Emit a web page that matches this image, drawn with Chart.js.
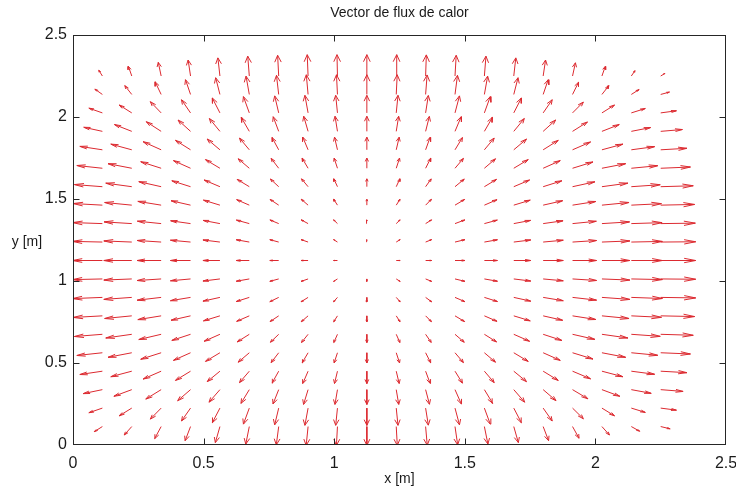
<!DOCTYPE html>
<html>
<head>
<meta charset="utf-8">
<script src="https://cdn.jsdelivr.net/npm/chart.js@4/dist/chart.umd.min.js"></script>
<style>
  body { margin: 0; background: #fff; }
  canvas { display: block; }
</style>
</head>
<body>
<canvas id="quiverChart" width="736" height="488"></canvas>
<script>
/* Heat flux quiver plot */

// grid points (m)
const xGrid = [0.1125, 0.225, 0.3375, 0.45, 0.5625, 0.675, 0.7875, 0.9, 1.0125, 1.125,
               1.2375, 1.35, 1.4625, 1.575, 1.6875, 1.8, 1.9125, 2.025, 2.1375, 2.25];
const yGrid = [0.1125, 0.225, 0.3375, 0.45, 0.5625, 0.675, 0.7875, 0.9, 1.0125, 1.125,
               1.2375, 1.35, 1.4625, 1.575, 1.6875, 1.8, 1.9125, 2.025, 2.1375, 2.25];

// horizontal flux along the middle row (one per column)
const fluxXMid = [-0.115, -0.107, -0.092, -0.077, -0.065, -0.050, -0.034, -0.027, -0.015, 0,
                  0.015, 0.023, 0.038, 0.050, 0.065, 0.077, 0.092, 0.107, 0.119, 0.134];
// vertical flux along the middle column (one per row, bottom to top)
const fluxYMid = [-0.115, -0.105, -0.090, -0.075, -0.062, -0.050, -0.036, -0.027, -0.015, 0,
                  0.015, 0.023, 0.036, 0.048, 0.062, 0.077, 0.092, 0.107, 0.120, 0.130];
// how the horizontal flux shrinks toward the top/bottom edges (per row)
const rowFalloff = [0.27, 0.45, 0.64, 0.75, 0.85, 0.93, 0.97, 1, 1, 1,
                    1, 0.99, 0.97, 0.93, 0.85, 0.75, 0.62, 0.45, 0.25, 0.12];
// how the vertical flux shrinks toward the left/right edges (per column)
const colFalloff = [0.27, 0.45, 0.64, 0.75, 0.85, 0.93, 0.97, 1, 1, 1,
                    1, 0.99, 0.97, 0.93, 0.85, 0.75, 0.62, 0.45, 0.25, 0.12];

const xTicks = [0, 0.5, 1, 1.5, 2, 2.5];
const yTicks = [0, 0.5, 1, 1.5, 2, 2.5];

const RED = '#dc2a30';
const headLen = 0.33;
const headWide = 0.3;

// build shaft + barb polylines, null y breaks the line
function buildArrows() {
    const pts = [];
    for (let i = 0; i < xGrid.length; i++) {
        for (let j = 0; j < yGrid.length; j++) {
            const x = xGrid[i], y = yGrid[j];
            const u = fluxXMid[i] * rowFalloff[j];
            const v = fluxYMid[j] * colFalloff[i];
            const hx = x + u, hy = y + v;
            pts.push({ x: x, y: y });
            pts.push({ x: hx, y: hy });
            pts.push({ x: hx - headLen * (u + headWide * v), y: hy - headLen * (v - headWide * u) });
            pts.push({ x: hx, y: null });
            pts.push({ x: hx, y: hy });
            pts.push({ x: hx - headLen * (u - headWide * v), y: hy - headLen * (v + headWide * u) });
            pts.push({ x: hx, y: null });
        }
    }
    return pts;
}

const framePlugin = {
    id: 'frame',
    afterDraw(chart) {
        const { ctx, chartArea: a, scales } = chart;
        const L = Math.round(a.left) + 0.5, R = Math.round(a.right) - 0.5;
        const T = Math.round(a.top) + 0.5, B = Math.round(a.bottom) - 0.5;
        ctx.save();
        ctx.strokeStyle = '#262626';
        ctx.lineWidth = 1;
        ctx.strokeRect(L, T, R - L, B - T);
        ctx.beginPath();
        xTicks.slice(1, -1).forEach(t => {
            const px = Math.round(scales.x.getPixelForValue(t)) + 0.5;
            ctx.moveTo(px, B); ctx.lineTo(px, B - 6);
            ctx.moveTo(px, T); ctx.lineTo(px, T + 6);
        });
        yTicks.slice(1, -1).forEach(t => {
            const py = Math.round(scales.y.getPixelForValue(t)) + 0.5;
            ctx.moveTo(L, py); ctx.lineTo(L + 6, py);
            ctx.moveTo(R, py); ctx.lineTo(R - 6, py);
        });
        ctx.stroke();

        ctx.fillStyle = '#1a1a1a';
        ctx.textAlign = 'center';
        ctx.textBaseline = 'middle';
        ctx.font = '14px "Liberation Sans", Arial, sans-serif';
        ctx.fillText('Vector de flux de calor', (a.left + a.right) / 2, 13);
        ctx.fillText('x [m]', (a.left + a.right) / 2, 479);
        ctx.fillText('y [m]', 27, 242);
        ctx.restore();
    }
};

new Chart(document.getElementById('quiverChart'), {
    type: 'scatter',
    data: {
        datasets: [{
            data: buildArrows(),
            showLine: true,
            spanGaps: false,
            borderColor: RED,
            borderWidth: 1,
            pointRadius: 0,
            pointHoverRadius: 0,
            tension: 0
        }]
    },
    options: {
        responsive: false,
        animation: false,
        devicePixelRatio: 1,
        layout: { padding: { left: 0, top: 35, right: 10, bottom: 0 } },
        plugins: {
            legend: { display: false },
            tooltip: { enabled: false }
        },
        events: [],
        scales: {
            x: {
                type: 'linear',
                min: 0,
                max: 2.5,
                afterBuildTicks: s => { s.ticks = xTicks.map(v => ({ value: v })); },
                afterFit: s => { s.height = 43; s.paddingLeft = 0; s.paddingRight = 0; },
                grid: { display: false, drawTicks: false },
                border: { display: false },
                ticks: {
                    padding: 9,
                    color: '#1a1a1a',
                    callback: v => String(v),
                    font: { size: 16, family: '"Liberation Sans", Arial, sans-serif' }
                }
            },
            y: {
                type: 'linear',
                min: 0,
                max: 2.5,
                afterBuildTicks: s => { s.ticks = yTicks.map(v => ({ value: v })); },
                afterFit: s => { s.width = 73; s.paddingTop = 0; s.paddingBottom = 0; },
                grid: { display: false, drawTicks: false },
                border: { display: false },
                ticks: {
                    padding: 6,
                    color: '#1a1a1a',
                    callback: v => String(v),
                    font: { size: 16, family: '"Liberation Sans", Arial, sans-serif' }
                }
            }
        }
    },
    plugins: [framePlugin]
});
</script>
</body>
</html>
